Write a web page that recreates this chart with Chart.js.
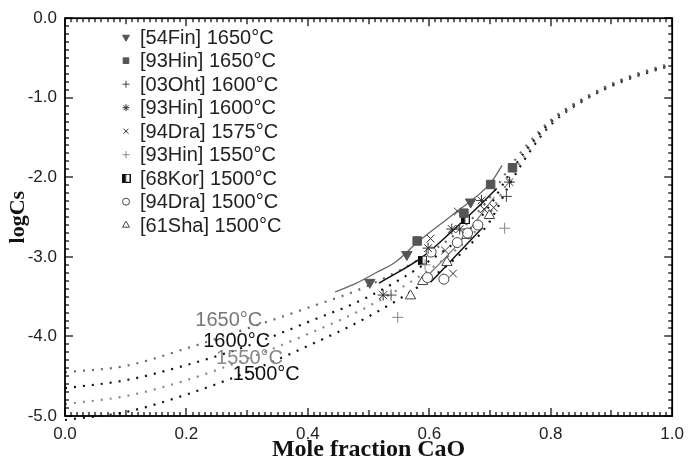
<!DOCTYPE html>
<html>
<head>
<meta charset="utf-8">
<script src="https://cdn.jsdelivr.net/npm/chart.js@4.4.1/dist/chart.umd.min.js"></script>
<style>
  html, body { margin: 0; padding: 0; background: #fff; }
  #wrap { width: 692px; height: 459px; }
</style>
</head>
<body>
<div id="wrap"><canvas id="csChart" width="692" height="459"></canvas></div>
<script>
// model curves (dotted) - x is mole fraction CaO
const modelX    = [0, 0.1, 0.2, 0.3, 0.4, 0.5, 0.6, 0.66, 0.7, 0.73, 0.76, 0.8, 0.86, 0.92, 1.0];
const model1650 = [-4.45, -4.37, -4.15, -3.90, -3.64, -3.36, -2.95, -2.60, -2.25, -1.90, -1.60, -1.28, -0.98, -0.76, -0.56];
const model1600 = [-4.65, -4.55, -4.36, -4.12, -3.82, -3.50, -3.05, -2.70, -2.35, -1.98, -1.65, -1.30, -0.99, -0.77, -0.57];
const model1550 = [-4.85, -4.75, -4.55, -4.28, -3.97, -3.62, -3.16, -2.80, -2.45, -2.05, -1.70, -1.32, -1.00, -0.78, -0.58];
const model1500 = [-5.05, -4.95, -4.73, -4.45, -4.12, -3.75, -3.28, -2.90, -2.55, -2.12, -1.74, -1.34, -1.01, -0.79, -0.59];

// fitted lines (solid)
const fit1650X = [0.445, 0.48, 0.512, 0.545, 0.58, 0.64, 0.70, 0.72];
const fit1650Y = [-3.44, -3.33, -3.20, -3.06, -2.82, -2.46, -2.08, -1.85];
const fit1600X = [0.517, 0.589, 0.637, 0.675, 0.711];
const fit1600Y = [-3.33, -3.00, -2.68, -2.41, -2.14];
const fit1550X = [0.585, 0.646, 0.707];
const fit1550Y = [-3.33, -2.85, -2.25];
const fit1500X = [0.602, 0.637, 0.688];
const fit1500Y = [-3.32, -3.04, -2.63];

// measured data
const fin54_1650X = [0.502, 0.563, 0.668];
const fin54_1650Y = [-3.32, -2.97, -2.31];
const hin93_1650X = [0.580, 0.657, 0.701, 0.737];
const hin93_1650Y = [-2.80, -2.45, -2.09, -1.88];
const oht03_1600X = [0.537, 0.727];
const oht03_1600Y = [-3.48, -2.24];
const hin93_1600X = [0.524, 0.598, 0.637, 0.650, 0.686, 0.732];
const hin93_1600Y = [-3.48, -2.89, -2.65, -2.65, -2.29, -2.06];
const dra94_1575X = [0.602, 0.626, 0.639, 0.647, 0.690, 0.706];
const dra94_1575Y = [-2.77, -2.92, -3.21, -2.43, -2.40, -2.38];
const hin93_1550X = [0.548, 0.593, 0.724];
const hin93_1550Y = [-3.76, -3.10, -2.64];
const kor68_1500X = [0.589, 0.659];
const kor68_1500Y = [-3.04, -2.53];
const dra94_1500X = [0.597, 0.624, 0.603, 0.646, 0.663, 0.680];
const dra94_1500Y = [-3.26, -3.28, -2.94, -2.82, -2.70, -2.60];
const sha61_1500X = [0.569, 0.589, 0.629, 0.662, 0.699];
const sha61_1500Y = [-3.49, -3.31, -3.07, -2.73, -2.48];

const curveNames = ['1650°C', '1600°C', '1550°C', '1500°C'];
const xTicks = [0, 0.2, 0.4, 0.6, 0.8, 1.0];
const yTicks = [0, -1, -2, -3, -4, -5];

const pts = (xs, ys) => xs.map((x, i) => ({ x: x, y: ys[i] }));

function halfSquare(size) {
  const c = document.createElement('canvas');
  c.width = size; c.height = size;
  const g = c.getContext('2d');
  g.fillStyle = '#fff';
  g.fillRect(0, 0, size, size);
  g.fillStyle = '#111';
  g.fillRect(0, 0, size / 2, size);
  g.strokeStyle = '#111';
  g.lineWidth = 1;
  g.strokeRect(0.5, 0.5, size - 1, size - 1);
  return c;
}

function modelSet(ys, color) {
  return {
    type: 'line', data: pts(modelX, ys), borderColor: color, borderWidth: 2.2,
    borderDash: [2, 7], pointRadius: 0, cubicInterpolationMode: 'monotone',
    fill: false, clip: 8, order: 3
  };
}
function fitSet(xs, ys, color, w) {
  return {
    type: 'line', data: pts(xs, ys), borderColor: color, borderWidth: w,
    pointRadius: 0, cubicInterpolationMode: 'monotone', fill: false, order: 2
  };
}
function markSet(label, xs, ys, style, r, stroke, fill, rot, legR) {
  return {
    label: label, type: 'scatter', data: pts(xs, ys), pointStyle: style,
    pointRadius: r, pointRotation: rot || 0, borderColor: stroke, backgroundColor: fill,
    pointBorderWidth: 1, borderWidth: 1, order: 1, legendItem: true, legendRadius: legR
  };
}

const markers = [
  markSet('[54Fin] 1650°C', fin54_1650X, fin54_1650Y, 'triangle', 6, '#555', '#555', 180, 4),
  markSet('[93Hin] 1650°C', hin93_1650X, hin93_1650Y, 'rect', 6, '#555', '#555', 0, 4),
  markSet('[03Oht] 1600°C', oht03_1600X, oht03_1600Y, 'cross', 5.5, '#444', '#444', 0, 3.5),
  markSet('[93Hin] 1600°C', hin93_1600X, hin93_1600Y, 'star', 5.5, '#333', '#333', 0, 3.5),
  markSet('[94Dra] 1575°C', dra94_1575X, dra94_1575Y, 'crossRot', 5.5, '#333', '#333', 0, 3.5),
  markSet('[93Hin] 1550°C', hin93_1550X, hin93_1550Y, 'cross', 5.5, '#888', '#888', 0, 3.5),
  markSet('[68Kor] 1500°C', kor68_1500X, kor68_1500Y, halfSquare(9), 5, '#111', '#111', 0, 4),
  markSet('[94Dra] 1500°C', dra94_1500X, dra94_1500Y, 'circle', 5, '#444', '#fff', 0, 3.5),
  markSet('[61Sha] 1500°C', sha61_1500X, sha61_1500Y, 'triangle', 6, '#444', '#fff', 0, 4)
];

// inward tick marks on all four sides plus the frame
const frameTicks = {
  id: 'frameTicks',
  afterDraw(chart) {
    const { ctx, chartArea: a, scales } = chart;
    const xs = scales.x, ys = scales.y;
    ctx.save();
    ctx.fillStyle = '#000';
    for (let i = 0; i <= 100; i++) {
      const px = Math.round(xs.getPixelForValue(i / 100));
      const len = i % 20 === 0 ? 8 : (i % 10 === 0 ? 6 : 4);
      ctx.fillRect(px - 0.6, a.bottom - len, 1.2, len);
      ctx.fillRect(px - 0.6, a.top, 1.2, len);
    }
    for (let i = 0; i <= 50; i++) {
      const py = Math.round(ys.getPixelForValue(-i / 10));
      const len = i % 10 === 0 ? 8 : 4;
      ctx.fillRect(a.left, py - 0.6, len, 1.2);
      ctx.fillRect(a.right - len, py - 0.6, len, 1.2);
    }
    ctx.strokeStyle = '#000';
    ctx.setLineDash([]);
    ctx.lineWidth = 1.8;
    ctx.strokeRect(a.left, a.top, a.right - a.left, a.bottom - a.top);
    ctx.restore();
  }
};

const annotations = {
  id: 'annotations',
  afterDatasetsDraw(chart, args, opts) {
    const { ctx, chartArea: a, scales } = chart;
    ctx.save();
    // curve labels
    ctx.font = '20px "Liberation Sans", Arial, sans-serif';
    ctx.textBaseline = 'middle';
    ctx.textAlign = 'left';
    opts.curveLabels.forEach((l) => {
      ctx.fillStyle = l.color;
      ctx.fillText(l.text, scales.x.getPixelForValue(l.x), scales.y.getPixelForValue(l.y));
    });
    // legend
    const lx = a.left + opts.legend.dx, ly = a.top + opts.legend.dy;
    let row = 0;
    chart.data.datasets.forEach((ds) => {
      if (!ds.legendItem) return;
      const y = ly + row * opts.legend.step;
      ctx.strokeStyle = ds.borderColor;
      ctx.fillStyle = ds.backgroundColor;
      ctx.lineWidth = 1;
      Chart.helpers.drawPoint(ctx, {
        pointStyle: ds.pointStyle, rotation: ds.pointRotation, radius: ds.legendRadius, borderWidth: 1
      }, lx, y);
      ctx.fillStyle = '#222';
      ctx.fillText(ds.label, lx + 14, y + 1);
      row++;
    });
    ctx.restore();
  }
};

const datasets = markers.concat([
  fitSet(fit1650X, fit1650Y, '#666', 1.3),
  fitSet(fit1600X, fit1600Y, '#111', 1.5),
  fitSet(fit1550X, fit1550Y, '#777', 1.2),
  fitSet(fit1500X, fit1500Y, '#111', 1.5),
  modelSet(model1650, '#6a6a6a'),
  modelSet(model1600, '#111'),
  modelSet(model1550, '#888'),
  modelSet(model1500, '#111')
]);

new Chart(document.getElementById('csChart'), {
  type: 'scatter',
  data: { datasets: datasets },
  options: {
    responsive: false,
    animation: false,
    events: [],
    layout: { padding: { top: 17, right: 12, left: 0, bottom: 0 } },
    plugins: {
      legend: { display: false },
      tooltip: { enabled: false },
      annotations: {
        legend: { dx: 61, dy: 19, step: 23.5 },
        curveLabels: [
          { text: curveNames[0], x: 0.2146, y: -3.795, color: '#777' },
          { text: curveNames[1], x: 0.2276, y: -4.059, color: '#111' },
          { text: curveNames[2], x: 0.2488, y: -4.272, color: '#888' },
          { text: curveNames[3], x: 0.2764, y: -4.473, color: '#111' }
        ]
      }
    },
    scales: {
      x: {
        type: 'linear', min: 0, max: 1,
        afterBuildTicks: (s) => { s.ticks = xTicks.map((v) => ({ value: v })); },
        afterFit: (s) => { s.height = 43; },
        grid: { display: false, drawTicks: false },
        border: { display: false },
        ticks: {
          padding: 8, color: '#222', maxRotation: 0,
          font: { size: 17, family: '"Liberation Sans", Arial, sans-serif' },
          callback: (v) => Number(v).toFixed(1)
        },
        title: {
          display: true, text: 'Mole fraction CaO', color: '#111',
          padding: { top: 0, bottom: -5 },
          font: { size: 24, weight: 'bold', family: '"Liberation Serif", "Times New Roman", serif' }
        }
      },
      y: {
        type: 'linear', min: -5, max: 0,
        afterBuildTicks: (s) => { s.ticks = yTicks.map((v) => ({ value: v })); },
        afterFit: (s) => { s.width = 65; },
        grid: { display: false, drawTicks: false },
        border: { display: false },
        ticks: {
          padding: 8, color: '#222',
          font: { size: 17, family: '"Liberation Sans", Arial, sans-serif' },
          callback: (v) => (Math.abs(v) < 1e-9 ? '0.0' : Number(v).toFixed(1))
        },
        title: {
          display: true, text: 'logCs', color: '#111',
          padding: { top: 5, bottom: 0 },
          font: { size: 22, weight: 'bold', family: '"Liberation Serif", "Times New Roman", serif' }
        }
      }
    }
  },
  plugins: [frameTicks, annotations]
});
</script>
</body>
</html>
